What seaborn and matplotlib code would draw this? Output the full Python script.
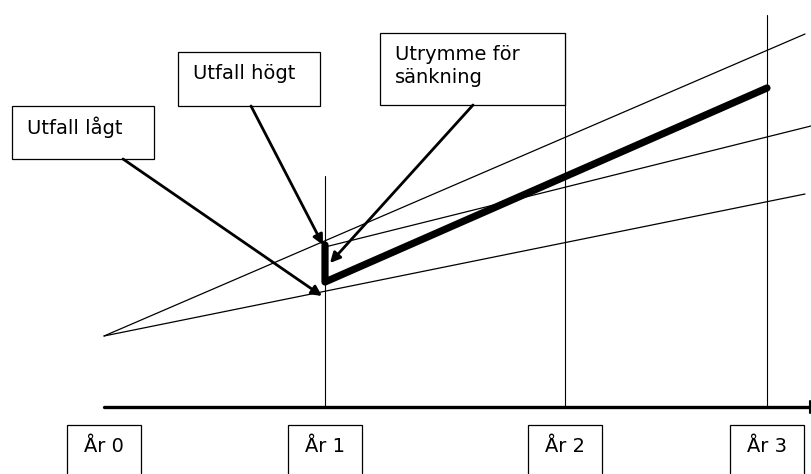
import matplotlib
matplotlib.use('Agg')
import matplotlib.pyplot as plt
import seaborn as sns
import pandas as pd
from matplotlib.patches import Rectangle

# ---- data (diagram in pixel space, y grows downward) ----
year_labels = ['År 0', 'År 1', 'År 2', 'År 3']
year_x = [104, 325, 565, 767]
year_line_top = [None, 176, 33, 15]
axis_y = 407

upper_x = [104, 805]
upper_y = [336, 34]
lower_x = [104, 805]
lower_y = [336, 194]
middle_x = [325, 811]
middle_y = [247, 126]
path_x = [325, 325, 767]
path_y = [245, 282, 88]

callout_texts = [['Utfall lågt'], ['Utfall högt'], ['Utrymme för', 'sänkning']]
callout_boxes = [(12, 106, 154, 159), (178, 52, 320, 106), (380, 33, 565, 105)]
callout_arrow_start = [(123, 159), (251, 106), (473, 105)]
callout_arrow_tip = [(322, 296), (323, 245), (330, 263)]

sns.set_style('white')
plt.rcParams['font.family'] = ['DejaVu Sans']

fig = plt.figure(figsize=(8.11, 4.74), dpi=100)
ax = fig.add_axes([0, 0, 1, 1])
ax.set_xlim(0, 811)
ax.set_ylim(474, 0)
ax.axis('off')

def line(xs, ys, **kw):
    df = pd.DataFrame({'x': xs, 'y': ys})
    sns.lineplot(data=df, x='x', y='y', ax=ax, sort=False, estimator=None,
                 color='black', legend=False, **kw)

# vertical year lines
for x, top in zip(year_x, year_line_top):
    if top is not None:
        line([x, x], [top, axis_y], linewidth=0.8)

# fan lines
line(upper_x, upper_y, linewidth=0.9)
line(lower_x, lower_y, linewidth=0.9)
line(middle_x, middle_y, linewidth=0.9)

# thick path
line(path_x, path_y, linewidth=5.2, solid_capstyle='round', solid_joinstyle='round')

# horizontal axis
line([year_x[0], 811], [axis_y, axis_y], linewidth=2.4)
line([810, 810], [401, 413], linewidth=1.5)

# callout boxes
for texts, (x0, y0, x1, y1) in zip(callout_texts, callout_boxes):
    ax.add_patch(Rectangle((x0, y0), x1 - x0, y1 - y0, facecolor='white',
                           edgecolor='black', linewidth=0.9, zorder=3))
    for i, t in enumerate(texts):
        ax.text(x0 + 15, y0 + 21 + i * 23, t, fontsize=14, va='center', ha='left',
                color='black', zorder=4)

for (sx, sy), (tx, ty) in zip(callout_arrow_start, callout_arrow_tip):
    ax.annotate('', xy=(tx, ty), xytext=(sx, sy),
                arrowprops=dict(arrowstyle='-|>', lw=2.0, color='black',
                                mutation_scale=15, shrinkA=0, shrinkB=0),
                zorder=5)

# year boxes
for lab, x in zip(year_labels, year_x):
    ax.add_patch(Rectangle((x - 37, 425), 74, 60, facecolor='white',
                           edgecolor='black', linewidth=0.9, zorder=3, clip_on=True))
    ax.text(x, 447, lab, fontsize=14, va='center', ha='center', color='black', zorder=4)

fig.savefig('out.png', dpi=100)
